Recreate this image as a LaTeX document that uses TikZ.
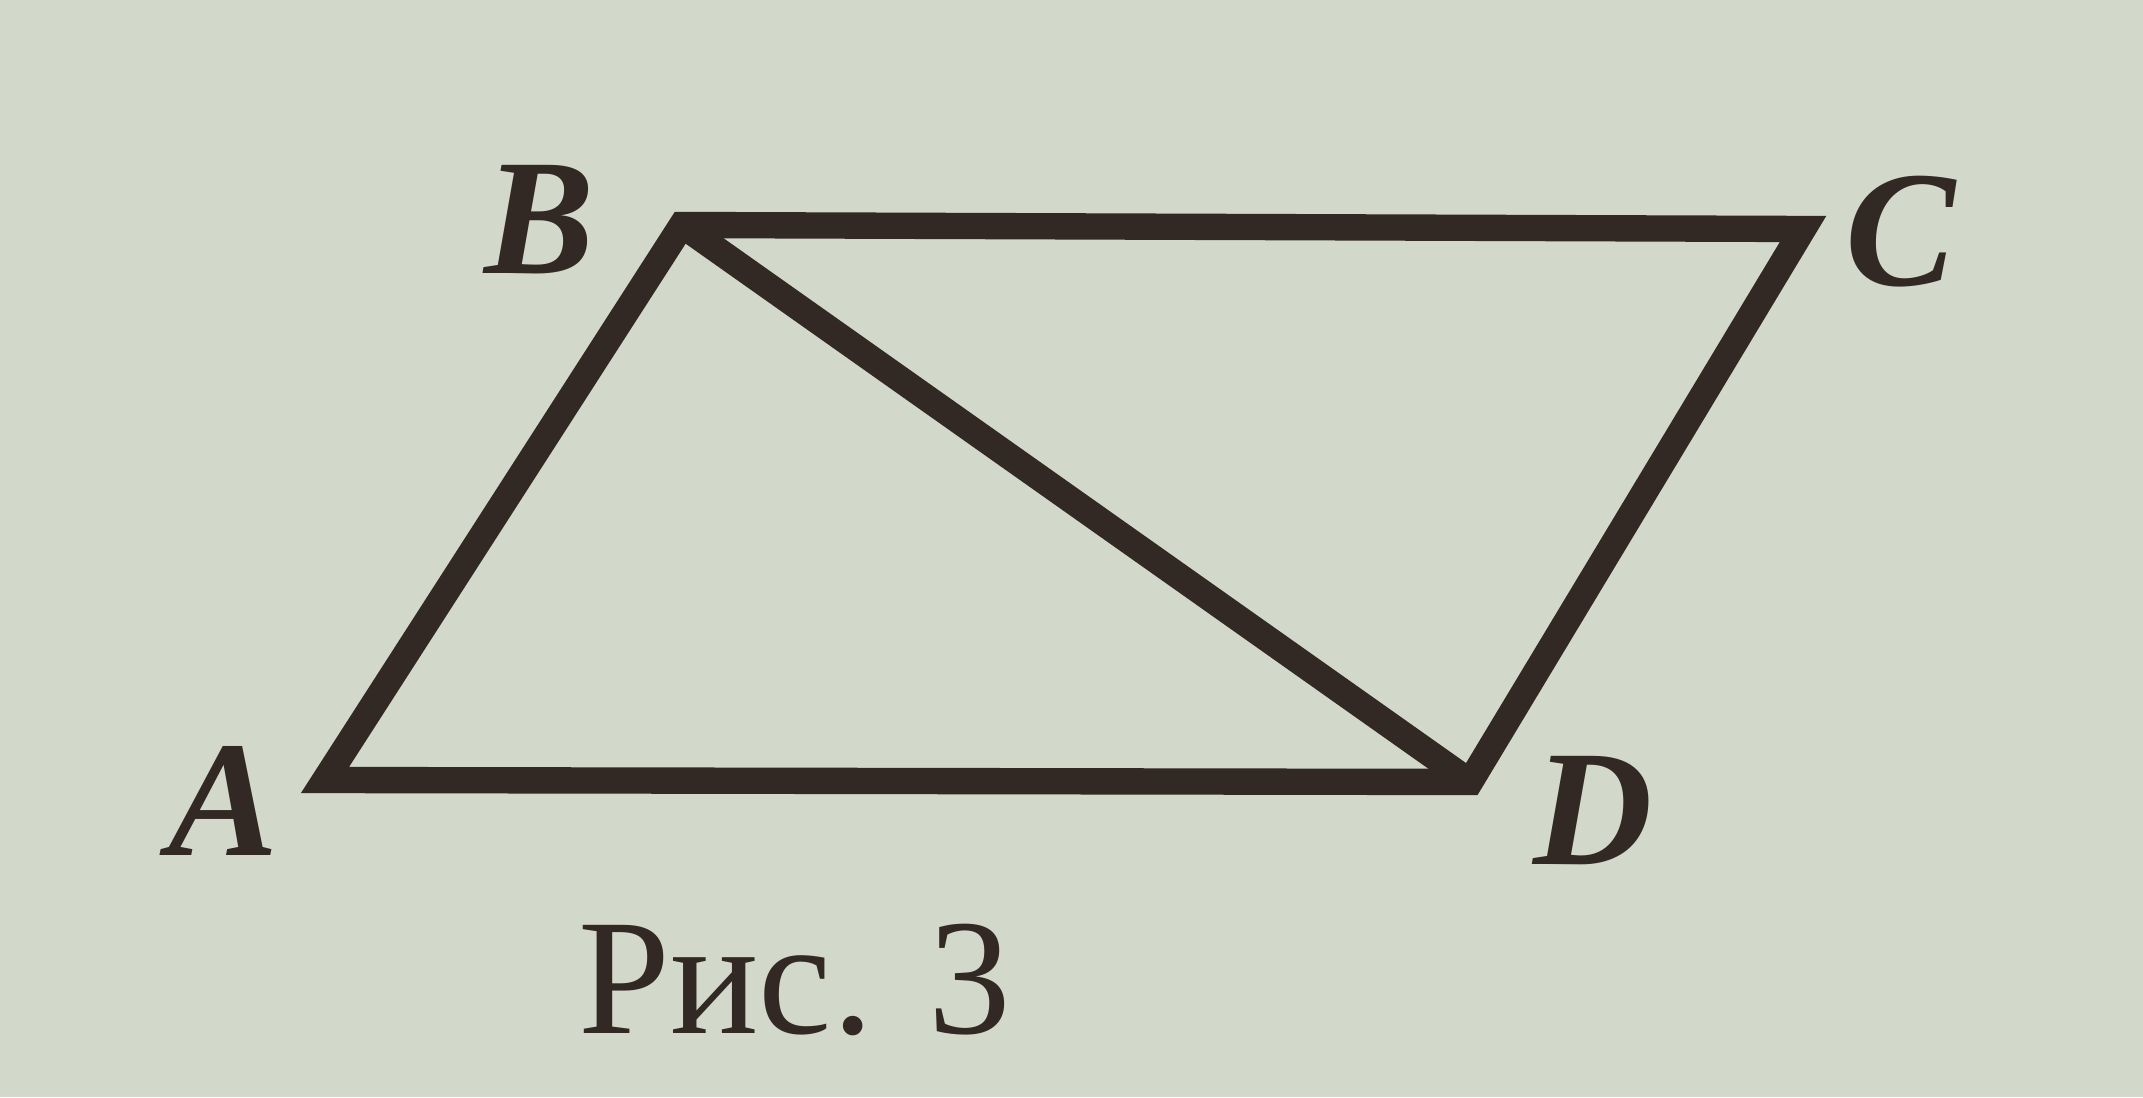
\documentclass[tikz,border=0pt]{standalone}
\usepackage{fontspec}
\setmainfont{Liberation Serif}
\definecolor{paper}{RGB}{210,217,202}
\definecolor{ink}{RGB}{50,40,36}

\begin{document}
\begin{tikzpicture}[
	side/.style={draw=ink, line width=7.5pt, line join=miter},
	vlabel/.style={inner sep=0, text=ink, font=\fontsize{47}{50}\selectfont\bfseries\itshape},
	caption/.style={inner sep=0, text=ink, font=\fontsize{47}{50}\selectfont}
]

%%\draw[step=1cm, gray, very thin] (0,0) grid (21.43,10.97);

\fill[paper] (0,0) rectangle (21.43,10.97);
\useasboundingbox (0,0) rectangle (21.43,10.97);

\coordinate (a) at (3.25,3.17);
\coordinate (b) at (6.82,8.72);
\coordinate (c) at (18.03,8.68);
\coordinate (d) at (14.70,3.15);

\draw [side] (a) -- (b) -- (c) -- (d) -- cycle;
\draw [side] (b) -- (d);

\node at (2.24,2.96) [vlabel] (alabel) {A};
\node at (5.40,8.77) [vlabel] (blabel) {B};
\node at (19.01,8.65) [vlabel] (clabel) {C};
\node at (15.93,2.86) [vlabel] (dlabel) {D};

\node at (7.95,1.17) [caption] (fig) {Рис. 3};

\end{tikzpicture}
\end{document}
